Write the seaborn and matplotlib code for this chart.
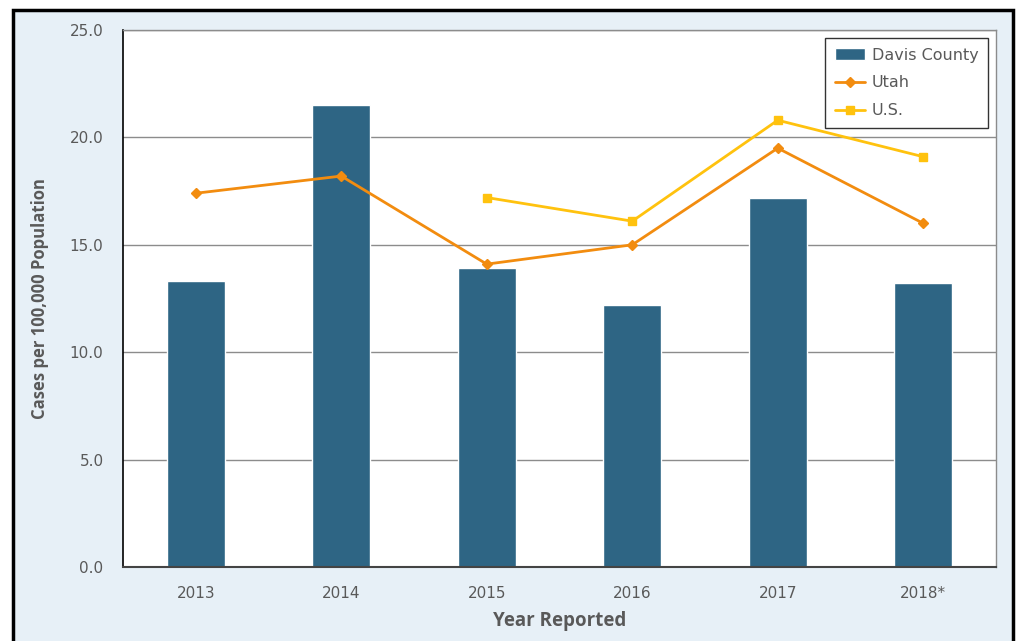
import numpy as np
import seaborn as sns
import matplotlib.pyplot as plt
from matplotlib.patches import Rectangle
from matplotlib.ticker import FormatStrFormatter

# data
years = ["2013", "2014", "2015", "2016", "2017", "2018*"]
davis = [13.3, 21.5, 13.9, 12.2, 17.2, 13.2]
utah = [17.4, 18.2, 14.1, 15.0, 19.5, 16.0]
us = [np.nan, np.nan, 17.2, 16.1, 20.8, 19.1]

bar_col = "#2E6584"
utah_col = "#F28C0F"
us_col = "#FFC20E"
bg_col = "#E7F0F7"
txt_col = "#595959"

sns.set_style("white")
plt.rcParams['font.family'] = ['DejaVu Sans']

fig = plt.figure(figsize=(10.18, 6.41), dpi=100)
fig.patch.set_facecolor("white")
# light blue chart area with black frame
fig.patches.append(Rectangle((13 / 1018, -0.01), 1000 / 1018, 1 - 10 / 641 + 0.01,
                             transform=fig.transFigure, facecolor=bg_col,
                             edgecolor="black", linewidth=2.5, zorder=-5))

ax = fig.add_axes([123 / 1018, 1 - 567 / 641, 873 / 1018, 537 / 641])
ax.set_facecolor("white")

x = np.arange(len(years))
sns.barplot(x=years, y=davis, color=bar_col, width=0.4, saturation=1,
            ax=ax, label="Davis County", zorder=2)
ax.plot(x, utah, color=utah_col, marker="D", markersize=5, linewidth=2,
        label="Utah", zorder=3)
ax.plot(x, us, color=us_col, marker="s", markersize=6, linewidth=2,
        label="U.S.", zorder=3)

ax.set_ylim(0, 25)
ax.set_xlim(-0.5, len(years) - 0.5)
ax.set_yticks(np.arange(0, 25.1, 5))
ax.yaxis.set_major_formatter(FormatStrFormatter("%.1f"))
ax.grid(axis="y", color="#8C8C8C", linewidth=1, zorder=1)
ax.set_axisbelow(True)

ax.set_xticks(x)
ax.set_xticklabels(years)
ax.set_xticks(np.arange(-0.5, len(years), 1), minor=True)
ax.tick_params(axis="x", which="major", length=0, pad=14, labelsize=11, labelcolor=txt_col)
ax.tick_params(axis="x", which="minor", length=6, width=1, color="#555555", direction="out")
ax.tick_params(axis="y", length=6, width=1, color="#555555", direction="out",
               labelsize=11, labelcolor=txt_col, pad=8)

for s in ["top", "right"]:
    ax.spines[s].set_color("#8C8C8C")
    ax.spines[s].set_linewidth(1)
ax.spines["left"].set_color("black")
ax.spines["left"].set_linewidth(1.2)
ax.spines["bottom"].set_color("#444444")
ax.spines["bottom"].set_linewidth(1.5)

ax.set_xlabel("Year Reported", fontsize=13.5, fontweight="bold", color=txt_col,
              family="Open Sans", labelpad=7)
ax.set_ylabel("Cases per 100,000 Population", fontsize=12, fontweight="bold",
              color=txt_col, family="Open Sans", labelpad=15)

# legend: bars first, then lines
handles, labels = ax.get_legend_handles_labels()
order = [labels.index(l) for l in ["Davis County", "Utah", "U.S."]]
leg = ax.legend([handles[i] for i in order], [labels[i] for i in order],
                loc="upper right", bbox_to_anchor=(0.991, 0.985), borderaxespad=0,
                frameon=True, fancybox=False, edgecolor="black", fontsize=11.5,
                handlelength=1.9, handletextpad=0.4, borderpad=0.6, labelspacing=0.8)
leg.get_frame().set_linewidth(1)
for t in leg.get_texts():
    t.set_color(txt_col)

fig.savefig("out.png", dpi=100)
